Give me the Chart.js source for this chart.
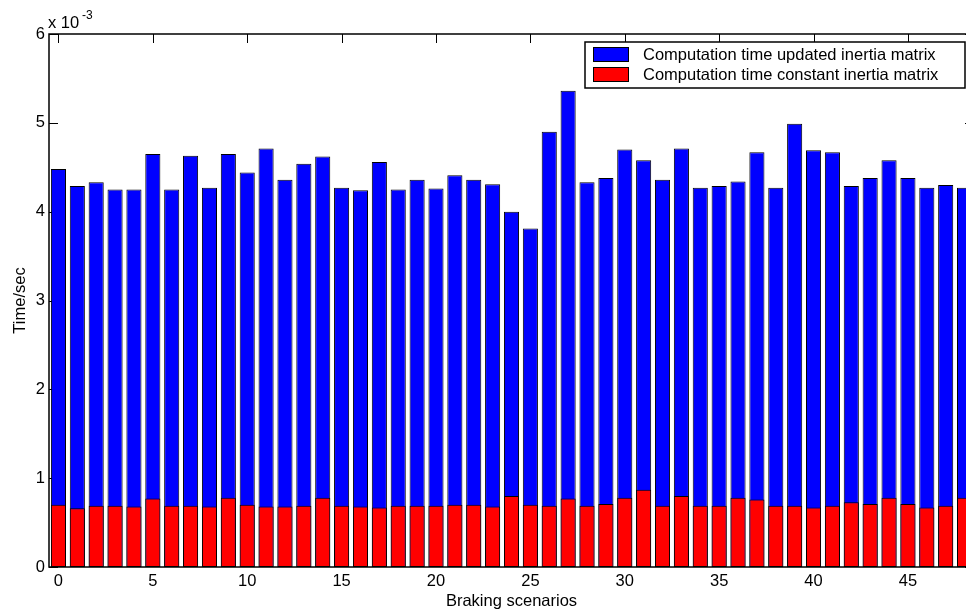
<!DOCTYPE html>
<html lang="en">
<head>
<meta charset="UTF-8">
<title>Computation time per braking scenario</title>
<script src="https://cdn.jsdelivr.net/npm/chart.js"></script>
<style>
  html, body { margin: 0; padding: 0; overflow: hidden; background: #fff; }
</style>
</head>
<body>
<canvas id="myChart" width="985" height="613"></canvas>
<script>
// values in units of 10^-3 s
const scenarios = [0, 1, 2, 3, 4, 5, 6, 7, 8, 9, 10, 11, 12, 13, 14, 15, 16, 17, 18, 19, 20, 21, 22, 23, 24,
                   25, 26, 27, 28, 29, 30, 31, 32, 33, 34, 35, 36, 37, 38, 39, 40, 41, 42, 43, 44, 45, 46, 47, 48];
const updatedTime = [4.48, 4.29, 4.33, 4.25, 4.25, 4.65, 4.25, 4.63, 4.27, 4.65,
                     4.44, 4.71, 4.36, 4.54, 4.62, 4.27, 4.24, 4.56, 4.25, 4.36,
                     4.26, 4.41, 4.36, 4.31, 4.00, 3.81, 4.90, 5.36, 4.33, 4.38,
                     4.70, 4.58, 4.36, 4.71, 4.27, 4.29, 4.34, 4.67, 4.27, 4.99,
                     4.69, 4.67, 4.29, 4.38, 4.58, 4.38, 4.27, 4.30, 4.27];
const constantTime = [0.70, 0.66, 0.69, 0.69, 0.68, 0.77, 0.69, 0.69, 0.68, 0.78,
                      0.70, 0.68, 0.68, 0.69, 0.78, 0.69, 0.68, 0.67, 0.69, 0.69,
                      0.69, 0.70, 0.70, 0.68, 0.80, 0.70, 0.69, 0.77, 0.69, 0.71,
                      0.78, 0.87, 0.69, 0.80, 0.69, 0.69, 0.78, 0.76, 0.69, 0.69,
                      0.67, 0.69, 0.73, 0.71, 0.78, 0.71, 0.67, 0.69, 0.78];
const xTickLabels = [0, 5, 10, 15, 20, 25, 30, 35, 40, 45];
const yTickLabels = [0, 1, 2, 3, 4, 5, 6];

const FONT = '"Liberation Sans", Arial, sans-serif';
const FS = 16.5;

// MATLAB style box, inward ticks, legend and exponent label
const matlabAxes = {
  id: 'matlabAxes',
  beforeDatasetsDraw(chart) {
    const { ctx, chartArea: a, scales: { x, y } } = chart;
    ctx.save();
    ctx.strokeStyle = '#000';
    ctx.lineWidth = 1;
    ctx.beginPath();
    xTickLabels.forEach(v => {
      const px = Math.round(x.getPixelForValue(scenarios.indexOf(v))) + 0.5;
      ctx.moveTo(px, a.bottom); ctx.lineTo(px, a.bottom - 9);
      ctx.moveTo(px, a.top); ctx.lineTo(px, a.top + 9);
    });
    yTickLabels.forEach(v => {
      const py = Math.round(y.getPixelForValue(v)) + 0.5;
      ctx.moveTo(a.left, py); ctx.lineTo(a.left + 9, py);
      ctx.moveTo(a.right, py); ctx.lineTo(a.right - 9, py);
    });
    ctx.stroke();
    ctx.restore();
  },
  afterDatasetsDraw(chart) {
    const { ctx, chartArea: a } = chart;
    ctx.save();
    ctx.strokeStyle = '#000';
    ctx.lineWidth = 1.5;
    ctx.strokeRect(a.left, a.top, a.right - a.left, a.bottom - a.top);

    // legend
    ctx.fillStyle = '#fff';
    ctx.fillRect(585, 42, 380, 46);
    ctx.strokeRect(585, 42, 380, 46);
    ctx.font = FS + 'px ' + FONT;
    ctx.textBaseline = 'middle';
    chart.data.datasets.forEach((ds, i) => {
      const yy = 47 + i * 20;
      ctx.fillStyle = ds.backgroundColor;
      ctx.fillRect(593, yy, 36, 15);
      ctx.lineWidth = 1;
      ctx.strokeRect(593.5, yy + 0.5, 35, 14);
      ctx.fillStyle = '#000';
      ctx.fillText(ds.label, 643, yy + 8);
    });

    // exponent
    ctx.textBaseline = 'alphabetic';
    ctx.font = FS + 'px ' + FONT;
    ctx.fillText('x 10', 48, 28);
    ctx.font = '12px ' + FONT;
    ctx.fillText('-3', 82, 19);
    ctx.restore();
  }
};

const ctx = document.getElementById('myChart').getContext('2d');
new Chart(ctx, {
  type: 'bar',
  data: {
    labels: scenarios,
    datasets: [{
      label: 'Computation time updated inertia matrix',
      data: updatedTime,
      backgroundColor: '#0000ff',
      borderColor: '#000',
      borderWidth: 1,
      borderSkipped: false,
      grouped: false,
      order: 2,
      barPercentage: 0.8,
      categoryPercentage: 1
    }, {
      label: 'Computation time constant inertia matrix',
      data: constantTime,
      backgroundColor: '#ff0000',
      borderColor: '#000',
      borderWidth: 1,
      borderSkipped: false,
      grouped: false,
      order: 1,
      barPercentage: 0.8,
      categoryPercentage: 1
    }]
  },
  options: {
    responsive: false,
    animation: false,
    layout: { padding: { top: 34, right: 11, left: 0, bottom: 0 } },
    plugins: { legend: { display: false }, tooltip: { enabled: false } },
    scales: {
      x: {
        grid: { display: false, drawTicks: false },
        border: { display: false },
        ticks: {
          autoSkip: false,
          maxRotation: 0,
          padding: 5,
          color: '#000',
          font: { family: FONT, size: FS },
          callback: function (value, index) {
            return xTickLabels.includes(scenarios[index]) ? String(scenarios[index]) : '';
          }
        },
        title: {
          display: true,
          text: 'Braking scenarios',
          color: '#000',
          font: { family: FONT, size: FS },
          padding: { top: 0, bottom: 2 }
        },
        afterFit: s => { s.height = 46; }
      },
      y: {
        min: 0,
        max: 6,
        grid: { display: false, drawTicks: false },
        border: { display: false },
        ticks: {
          stepSize: 1,
          padding: 4,
          color: '#000',
          font: { family: FONT, size: FS },
          callback: v => String(v)
        },
        title: {
          display: true,
          text: 'Time/sec',
          color: '#000',
          font: { family: FONT, size: FS },
          padding: { top: 11, bottom: 0 }
        },
        afterFit: s => { s.width = 49; }
      }
    }
  },
  plugins: [matlabAxes]
});
</script>
</body>
</html>
